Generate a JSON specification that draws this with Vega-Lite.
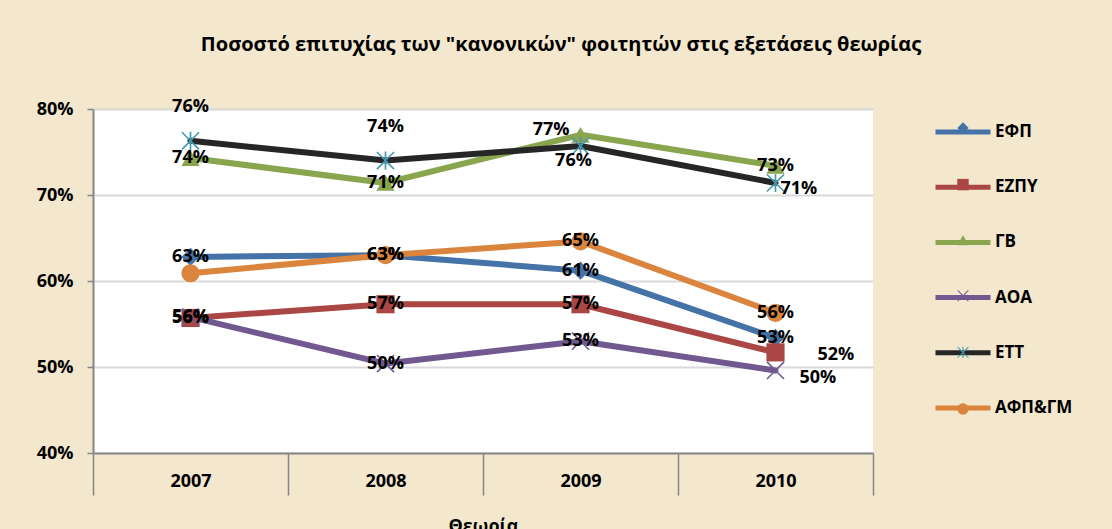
{
  "$schema": "https://vega.github.io/schema/vega-lite/v6.json",
  "autosize": "none",
  "width": 780,
  "height": 344,
  "padding": {"left": 93, "top": 109, "right": 239, "bottom": 76},
  "background": "#F3E7CD",
  "config": {
    "view": {"fill": "white", "stroke": null},
    "font": "Open Sans"
  },
  "title": {
    "text": "Ποσοστό επιτυχίας των \"κανονικών\" φοιτητών  στις εξετάσεις θεωρίας",
    "font": "Open Sans",
    "fontSize": 20,
    "fontWeight": "bold",
    "color": "#000000",
    "anchor": "middle",
    "frame": "group",
    "dx": 78,
    "offset": 43
  },
  "data": {
    "values": [
      {"series": "ΕΦΠ", "year": "2007", "value": 0.628},
      {"series": "ΕΦΠ", "year": "2008", "value": 0.630},
      {"series": "ΕΦΠ", "year": "2009", "value": 0.612},
      {"series": "ΕΦΠ", "year": "2010", "value": 0.534},
      {"series": "ΕΖΠΥ", "year": "2007", "value": 0.557},
      {"series": "ΕΖΠΥ", "year": "2008", "value": 0.573},
      {"series": "ΕΖΠΥ", "year": "2009", "value": 0.573},
      {"series": "ΕΖΠΥ", "year": "2010", "value": 0.517},
      {"series": "ΓΒ", "year": "2007", "value": 0.743},
      {"series": "ΓΒ", "year": "2008", "value": 0.714},
      {"series": "ΓΒ", "year": "2009", "value": 0.770},
      {"series": "ΓΒ", "year": "2010", "value": 0.734},
      {"series": "ΑΟΑ", "year": "2007", "value": 0.558},
      {"series": "ΑΟΑ", "year": "2008", "value": 0.504},
      {"series": "ΑΟΑ", "year": "2009", "value": 0.530},
      {"series": "ΑΟΑ", "year": "2010", "value": 0.496},
      {"series": "ΕΤΤ", "year": "2007", "value": 0.763},
      {"series": "ΕΤΤ", "year": "2008", "value": 0.740},
      {"series": "ΕΤΤ", "year": "2009", "value": 0.757},
      {"series": "ΕΤΤ", "year": "2010", "value": 0.714},
      {"series": "ΑΦΠ&ΓΜ", "year": "2007", "value": 0.609},
      {"series": "ΑΦΠ&ΓΜ", "year": "2008", "value": 0.630},
      {"series": "ΑΦΠ&ΓΜ", "year": "2009", "value": 0.646},
      {"series": "ΑΦΠ&ΓΜ", "year": "2010", "value": 0.563}
    ]
  },
  "encoding": {
    "x": {
      "field": "year",
      "type": "nominal",
      "scale": {"paddingInner": 0, "paddingOuter": 0},
      "axis": {
        "title": "Θεωρία",
        "titleFont": "Open Sans",
        "titleFontSize": 18,
        "titleFontWeight": "bold",
        "titleColor": "#000000",
        "titlePadding": 22,
        "labelAngle": 0,
        "labelFont": "Open Sans",
        "labelFontSize": 18,
        "labelFontWeight": "bold",
        "labelColor": "#000000",
        "labelPadding": -23,
        "labelBaseline": "top",
        "tickBand": "extent",
        "tickSize": 42,
        "tickColor": "#868686",
        "tickWidth": 1.5,
        "domainColor": "#868686",
        "domainWidth": 2,
        "zindex": 1
      }
    },
    "y": {
      "field": "value",
      "type": "quantitative",
      "scale": {"domain": [0.4, 0.8]},
      "axis": {
        "title": null,
        "values": [0.4, 0.5, 0.6, 0.7, 0.8],
        "format": ".0%",
        "labelFont": "Open Sans",
        "labelFontSize": 18,
        "labelFontWeight": "bold",
        "labelColor": "#000000",
        "labelPadding": 14,
        "tickSize": 6,
        "tickColor": "#868686",
        "tickWidth": 1.5,
        "domainColor": "#868686",
        "domainWidth": 2,
        "grid": true,
        "gridColor": "#D9D9D9",
        "gridWidth": 2
      }
    }
  },
  "layer": [
    {
      "mark": {"type": "line", "strokeWidth": 6, "strokeJoin": "round", "strokeCap": "round"},
      "encoding": {
        "stroke": {
          "field": "series",
          "type": "nominal",
          "scale": {
            "domain": ["ΕΦΠ", "ΕΖΠΥ", "ΓΒ", "ΑΟΑ", "ΕΤΤ", "ΑΦΠ&ΓΜ"],
            "range": ["#4572A7", "#AA4643", "#89A54E", "#71588F", "#262626", "#DB843D"]
          },
          "legend": {
            "title": null,
            "orient": "none",
            "legendX": 840,
            "legendY": -7,
            "symbolType": "stroke",
            "symbolSize": 3025,
            "symbolStrokeWidth": 5,
            "rowPadding": 15.2,
            "labelOffset": 2,
            "labelFont": "Open Sans",
            "labelFontSize": 17,
            "labelFontWeight": "bold",
            "labelColor": "#000000"
          }
        }
      }
    },
    {
      "mark": {"type": "point", "filled": true, "opacity": 1, "size": 330},
      "encoding": {
        "fill": {
          "field": "series",
          "type": "nominal",
          "sort": null,
          "scale": {
            "range": ["#4572A7", "#AA4643", "#89A54E", "#71588F", "#4198AF", "#DB843D"]
          },
          "legend": {
            "title": null,
            "orient": "none",
            "legendX": 862,
            "legendY": 11,
            "symbolSize": 130,
            "rowPadding": 38.6,
            "labelExpr": "''",
            "labelFontSize": 16,
            "labelFontWeight": "bold"
          }
        },
        "shape": {
          "field": "series",
          "type": "nominal",
          "sort": null,
          "scale": {
            "range": [
              "diamond",
              "square",
              "triangle-up",
              "M0,-0.12L0.88,-1L1,-0.88L0.12,0L1,0.88L0.88,1L0,0.12L-0.88,1L-1,0.88L-0.12,0L-1,-0.88L-0.88,-1Z",
              "M0,-0.12L0.88,-1L1,-0.88L0.12,0L1,0.88L0.88,1L0,0.12L-0.88,1L-1,0.88L-0.12,0L-1,-0.88L-0.88,-1Z M-0.09,-1L0.09,-1L0.09,1L-0.09,1Z",
              "circle"
            ]
          },
          "legend": {
            "title": null,
            "orient": "none",
            "legendX": 862,
            "legendY": 11,
            "symbolSize": 130,
            "rowPadding": 38.6,
            "labelExpr": "''",
            "labelFontSize": 16,
            "labelFontWeight": "bold"
          }
        }
      }
    },
    {
      "transform": [{"filter": "!(datum.series == 'ΑΦΠ&ΓΜ' && datum.year == '2007') && !(datum.series == 'ΕΤΤ') && !(datum.series == 'ΕΖΠΥ' && datum.year == '2010') && !(datum.series == 'ΑΟΑ' && datum.year == '2010') && !(datum.series == 'ΓΒ' && datum.year == '2009')"}],
      "mark": {"type": "text", "font": "Open Sans", "fontSize": 18, "fontWeight": "bold", "color": "#000000", "baseline": "middle", "align": "center"},
      "encoding": {"text": {"field": "value", "type": "quantitative", "format": ".0%"}}
    },
    {
      "transform": [{"filter": "datum.series == 'ΕΤΤ' && (datum.year == '2007' || datum.year == '2008')"}],
      "mark": {"type": "text", "font": "Open Sans", "fontSize": 18, "fontWeight": "bold", "color": "#000000", "baseline": "middle", "align": "center", "dy": -34},
      "encoding": {"text": {"field": "value", "type": "quantitative", "format": ".0%"}}
    },
    {
      "transform": [{"filter": "datum.series == 'ΕΤΤ' && datum.year == '2009'"}],
      "mark": {"type": "text", "font": "Open Sans", "fontSize": 18, "fontWeight": "bold", "color": "#000000", "baseline": "middle", "align": "center", "dx": -7, "dy": 15},
      "encoding": {"text": {"field": "value", "type": "quantitative", "format": ".0%"}}
    },
    {
      "transform": [{"filter": "datum.series == 'ΕΤΤ' && datum.year == '2010'"}],
      "mark": {"type": "text", "font": "Open Sans", "fontSize": 18, "fontWeight": "bold", "color": "#000000", "baseline": "middle", "align": "left", "dx": 5, "dy": 6},
      "encoding": {"text": {"field": "value", "type": "quantitative", "format": ".0%"}}
    },
    {
      "transform": [{"filter": "datum.series == 'ΕΖΠΥ' && datum.year == '2010'"}],
      "mark": {"type": "text", "font": "Open Sans", "fontSize": 18, "fontWeight": "bold", "color": "#000000", "baseline": "middle", "align": "left", "dx": 42, "dy": 3},
      "encoding": {"text": {"field": "value", "type": "quantitative", "format": ".0%"}}
    },
    {
      "transform": [{"filter": "datum.series == 'ΑΟΑ' && datum.year == '2010'"}],
      "mark": {"type": "text", "font": "Open Sans", "fontSize": 18, "fontWeight": "bold", "color": "#000000", "baseline": "middle", "align": "left", "dx": 24, "dy": 8},
      "encoding": {"text": {"field": "value", "type": "quantitative", "format": ".0%"}}
    },
    {
      "transform": [{"filter": "datum.series == 'ΓΒ' && datum.year == '2009'"}],
      "mark": {"type": "text", "font": "Open Sans", "fontSize": 18, "fontWeight": "bold", "color": "#000000", "baseline": "middle", "align": "right", "dx": -11, "dy": -5},
      "encoding": {"text": {"field": "value", "type": "quantitative", "format": ".0%"}}
    }
  ]
}
